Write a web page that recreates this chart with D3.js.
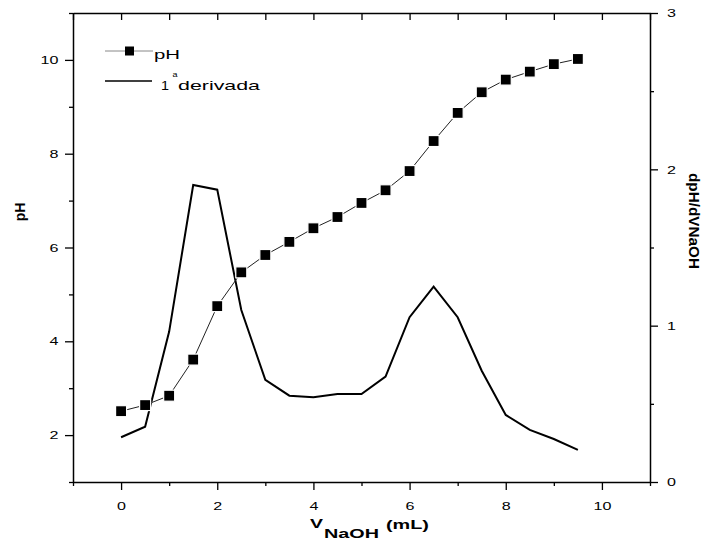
<!DOCTYPE html>
<html>
<head>
<meta charset="utf-8">
<script src="https://cdn.jsdelivr.net/npm/d3@7"></script>
<style>
  body { margin: 0; background: #fff; }
  svg text { font-family: 'Liberation Sans', Arial, sans-serif; fill: #000; }
</style>
</head>
<body>
<div id="main"></div>
<script>
// titration data
const volume = [0, 0.5, 1, 1.5, 2, 2.5, 3, 3.5, 4, 4.5, 5, 5.5, 6, 6.5, 7, 7.5, 8, 8.5, 9, 9.5];
const phValues = [2.51, 2.64, 2.84, 3.61, 4.75, 5.47, 5.84, 6.12, 6.41, 6.65, 6.95, 7.22, 7.63, 8.27, 8.87, 9.31, 9.58, 9.75, 9.91, 10.02];
const derivValues = [0.286, 0.354, 0.962, 1.90, 1.87, 1.10, 0.653, 0.552, 0.542, 0.563, 0.563, 0.674, 1.054, 1.25, 1.054, 0.712, 0.429, 0.333, 0.275, 0.205];

// tick values
const xTicks = d3.range(-1, 12);          // every 1 mL, labels on even
const phTicks = d3.range(1, 12);          // every 1, labels on even
const derivTicks = [0, 0.5, 1, 1.5, 2, 2.5, 3];

const w = 712, h = 541;
const mLeft = 73, mRight = 650, mTop = 13, mBottom = 482;
const stretch = 1.4;   // the original text is wider than it is tall

const svg = d3.select('#main').append('svg')
    .attr('width', w)
    .attr('height', h);

const x = d3.scaleLinear().domain([-1, 11]).range([mLeft, mRight]);
const yPh = d3.scaleLinear().domain([1, 11]).range([mBottom, mTop]);
const yDer = d3.scaleLinear().domain([0, 3]).range([mBottom, mTop]);

// helper: long ticks + label on majors, short ticks on minors
function styleAxis(g, isMajor, longLen, shortLen, dir, textX) {
    g.select('.domain').attr('stroke-width', 1.5);
    g.selectAll('.tick line')
        .attr('stroke-width', 1.3)
        .each(function(d) {
            const len = isMajor(d) ? longLen : shortLen;
            const el = d3.select(this);
            if (dir === 'x') el.attr('y2', len); else el.attr('x2', len);
        });
    const t = g.selectAll('.tick text')
        .style('font-size', '11.5px')
        .attr('transform', `scale(${stretch},1)`)
        .text(d => isMajor(d) ? d : '');
    if (textX !== undefined) t.attr('x', textX / stretch);
}

// bottom axis
svg.append('g')
    .attr('transform', `translate(0,${mBottom})`)
    .call(d3.axisBottom(x).tickValues(xTicks).tickSize(8).tickPadding(12).tickSizeOuter(0))
    .call(g => styleAxis(g, d => d % 2 === 0 && d >= 0 && d <= 10, 8, 4, 'x'));

// top axis (ticks pointing in)
svg.append('g')
    .attr('transform', `translate(0,${mTop})`)
    .call(d3.axisBottom(x).tickValues(xTicks).tickSize(7).tickFormat('').tickSizeOuter(0))
    .call(g => {
        g.select('.domain').attr('stroke-width', 1.5);
        g.selectAll('.tick line').attr('stroke-width', 1.3);
    });

// left axis (pH)
svg.append('g')
    .attr('transform', `translate(${mLeft},0)`)
    .call(d3.axisLeft(yPh).tickValues(phTicks).tickSize(8).tickSizeOuter(0))
    .call(g => styleAxis(g, d => d % 2 === 0, -8, -4, 'y', -14.5));

// right axis (derivative)
svg.append('g')
    .attr('transform', `translate(${mRight},0)`)
    .call(d3.axisRight(yDer).tickValues(derivTicks).tickSize(8).tickSizeOuter(0))
    .call(g => styleAxis(g, d => Number.isInteger(d), 8, 4, 'y', 17));

// derivative line
const derLine = d3.line()
    .x((d, i) => x(volume[i]))
    .y(d => yDer(d));

svg.append('path')
    .datum(derivValues)
    .attr('fill', 'none')
    .attr('stroke', '#000')
    .attr('stroke-width', 2)
    .attr('stroke-linejoin', 'miter')
    .attr('d', derLine);

// pH line + square markers
const phLine = d3.line()
    .x((d, i) => x(volume[i]))
    .y(d => yPh(d));

svg.append('path')
    .datum(phValues)
    .attr('fill', 'none')
    .attr('stroke', '#222')
    .attr('stroke-width', 1)
    .attr('d', phLine);

const sq = 11;
svg.append('g')
    .selectAll('rect')
    .data(phValues)
    .enter()
    .append('rect')
    .attr('x', (d, i) => x(volume[i]) - sq / 2)
    .attr('y', d => yPh(d) - sq / 2)
    .attr('width', sq)
    .attr('height', sq)
    .attr('fill', '#000')
    .attr('stroke', '#fff')
    .attr('stroke-width', 1.2);

// legend
const lg = svg.append('g');
lg.append('line').attr('x1', 105).attr('x2', 153).attr('y1', 51).attr('y2', 51)
    .attr('stroke', '#888').attr('stroke-width', 1);
lg.append('rect').attr('x', 125).attr('y', 46.5).attr('width', 9).attr('height', 9).attr('fill', '#000');
lg.append('text').attr('x', 154).attr('y', 59).style('font-size', '13.5px')
    .attr('textLength', 26).attr('lengthAdjust', 'spacingAndGlyphs').text('pH');

lg.append('line').attr('x1', 105).attr('x2', 152).attr('y1', 81).attr('y2', 81)
    .attr('stroke', '#000').attr('stroke-width', 1.5);
lg.append('text').attr('x', 161).attr('y', 90).style('font-size', '13.5px')
    .attr('textLength', 8).attr('lengthAdjust', 'spacingAndGlyphs').text('1');
lg.append('text').attr('x', 172.5).attr('y', 77).style('font-size', '7.5px')
    .attr('textLength', 5).attr('lengthAdjust', 'spacingAndGlyphs').text('a');
lg.append('text').attr('x', 178).attr('y', 90).style('font-size', '13.5px')
    .attr('textLength', 82).attr('lengthAdjust', 'spacingAndGlyphs').text('derivada');

// axis titles
const title = (tx, ty, size, len, str) => svg.append('text')
    .attr('x', tx).attr('y', ty)
    .style('font-size', size + 'px')
    .style('font-weight', 'bold')
    .attr('textLength', len)
    .attr('lengthAdjust', 'spacingAndGlyphs')
    .text(str);

title(310, 528, 13.5, 13, 'V');
title(324, 537.5, 13.5, 55, 'NaOH');
title(386, 529, 13, 43, '(mL)');

svg.append('text')
    .attr('transform', 'translate(25,212) rotate(-90)')
    .attr('text-anchor', 'middle')
    .style('font-size', '14px')
    .style('font-weight', 'bold')
    .text('pH');

svg.append('text')
    .attr('transform', 'translate(689,221) rotate(90)')
    .attr('text-anchor', 'middle')
    .style('font-size', '14.5px')
    .style('font-weight', 'bold')
    .attr('textLength', 96)
    .attr('lengthAdjust', 'spacingAndGlyphs')
    .text('dpH/dVNaOH');
</script>
</body>
</html>
